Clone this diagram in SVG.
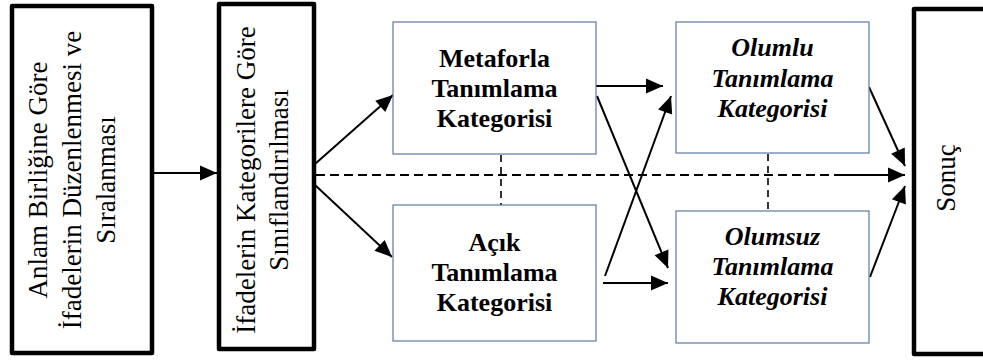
<svg xmlns="http://www.w3.org/2000/svg" width="983" height="361" viewBox="0 0 983 361">
<style>
.thick{fill:#fff;stroke:#000;stroke-width:4.5;stroke-linejoin:round}
.thin{fill:#fff;stroke:#5b7ba6;stroke-width:1.2}
.ln{stroke:#000;stroke-width:2;fill:none}
.ds{stroke:#000;stroke-width:2;fill:none;stroke-dasharray:9 5}
.vd{stroke:#000;stroke-width:1.6;fill:none;stroke-dasharray:7 5}
</style>
<defs>
<marker id="ah" markerUnits="userSpaceOnUse" markerWidth="18" markerHeight="16" refX="17" refY="8" orient="auto" overflow="visible">
<path d="M0,0.5 L17,8 L0,15.5 z" fill="#000"/>
</marker>
</defs>
<g id="connectors">
<line class="ln" x1="154" y1="173" x2="217" y2="173" marker-end="url(#ah)"/>
<line class="ln" x1="315" y1="164" x2="393" y2="95" marker-end="url(#ah)"/>
<line class="ln" x1="315" y1="185" x2="392" y2="257" marker-end="url(#ah)"/>
<line class="ds" x1="316" y1="175" x2="840" y2="175"/>
<line class="ln" x1="836" y1="175" x2="905" y2="175" marker-end="url(#ah)"/>
<line class="vd" x1="501" y1="155" x2="501" y2="205"/>
<line class="vd" x1="768" y1="154" x2="768" y2="211"/>
<line class="ln" x1="596" y1="86" x2="663" y2="86" marker-end="url(#ah)"/>
<line class="ln" x1="597" y1="96" x2="668" y2="268" marker-end="url(#ah)"/>
<line class="ln" x1="605" y1="276" x2="671" y2="96" marker-end="url(#ah)"/>
<line class="ln" x1="603" y1="283" x2="668" y2="283" marker-end="url(#ah)"/>
<line class="ln" x1="869" y1="87" x2="905" y2="166" marker-end="url(#ah)"/>
<line class="ln" x1="870" y1="277" x2="905" y2="186" marker-end="url(#ah)"/>
</g>
<g font-family="'Liberation Serif', 'Times New Roman', serif" fill="#000" text-anchor="middle">
<g id="n1" font-size="27">
<rect class="thick" x="12" y="6" width="140" height="347"/>
<g transform="translate(0,180) rotate(-90)">
<text x="0" y="47">Anlam Birliğine Göre</text>
<text x="0" y="81">İfadelerin Düzenlenmesi ve</text>
<text x="0" y="115">Sıralanması</text>
</g>
</g>
<g id="n2" font-size="27">
<rect class="thick" x="219" y="4" width="95" height="345"/>
<g transform="translate(0,180) rotate(-90)">
<text x="0" y="255">İfadelerin Kategorilere Göre</text>
<text x="0" y="288">Sınıflandırılması</text>
</g>
</g>
<g id="n3" font-size="26" font-weight="bold">
<rect class="thin" x="393" y="22" width="203" height="132"/>
<text x="494.5" y="67">Metaforla</text>
<text x="494.5" y="97">Tanımlama</text>
<text x="494.5" y="127">Kategorisi</text>
</g>
<g id="n4" font-size="26" font-weight="bold">
<rect class="thin" x="393" y="205" width="203" height="136"/>
<text x="494.5" y="251">Açık</text>
<text x="494.5" y="281">Tanımlama</text>
<text x="494.5" y="311">Kategorisi</text>
</g>
<g id="n5" font-size="26" font-weight="bold" font-style="italic">
<rect class="thin" x="676" y="22" width="193" height="131"/>
<text x="772.5" y="56">Olumlu</text>
<text x="772.5" y="87">Tanımlama</text>
<text x="772.5" y="117">Kategorisi</text>
</g>
<g id="n6" font-size="26" font-weight="bold" font-style="italic">
<rect class="thin" x="676" y="211" width="193" height="132"/>
<text x="772.5" y="245">Olumsuz</text>
<text x="772.5" y="275">Tanımlama</text>
<text x="772.5" y="305">Kategorisi</text>
</g>
<g id="n7" font-size="27">
<rect class="thick" x="914" y="9" width="100" height="345"/>
<text transform="translate(955,178) rotate(-90)" x="0" y="0">Sonuç</text>
</g>
</g>
</svg>
